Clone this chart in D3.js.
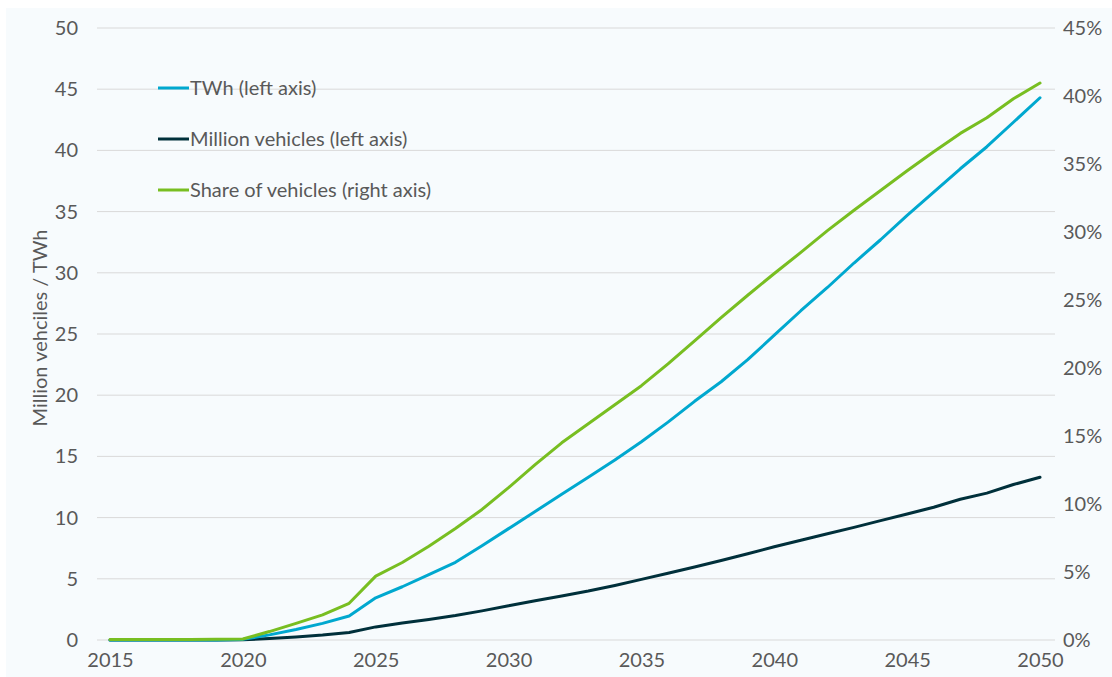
<!DOCTYPE html>
<html>
<head>
<meta charset="utf-8">
<script src="https://cdn.jsdelivr.net/npm/d3@7"></script>
<style>
  html, body { margin: 0; padding: 0; background: #ffffff; }
  svg { display: block; }
  text { font-family: Lato, "Open Sans", sans-serif; fill: #595959; }
</style>
</head>
<body>
<svg id="chart" width="1112" height="677"></svg>
<script>
// Years on the x axis
const years = d3.range(2015, 2051);

// Electricity demand of electric vehicles, TWh (left axis)
const twh = [0, 0, 0, 0, 0, 0.05, 0.42, 0.86, 1.36, 1.96,
  3.45, 4.35, 5.35, 6.35, 7.7, 9.1, 10.5, 11.9, 13.3, 14.7,
  16.2, 17.8, 19.5, 21.1, 22.9, 24.9, 26.9, 28.8, 30.8, 32.7,
  34.7, 36.6, 38.5, 40.3, 42.3, 44.3];

// Electric vehicle fleet, million vehicles (left axis)
const vehicles = [0, 0, 0, 0, 0, 0.02, 0.12, 0.25, 0.4, 0.62,
  1.07, 1.38, 1.68, 2.0, 2.38, 2.8, 3.2, 3.6, 4.0, 4.45,
  4.95, 5.45, 5.97, 6.5, 7.05, 7.62, 8.15, 8.68, 9.2, 9.75,
  10.3, 10.85, 11.5, 12.0, 12.7, 13.3];

// Share of electric vehicles in the fleet, % (right axis)
const share = [0.03, 0.03, 0.03, 0.04, 0.05, 0.07, 0.62, 1.22, 1.85, 2.7,
  4.7, 5.7, 6.9, 8.2, 9.6, 11.2, 12.9, 14.5, 15.9, 17.3,
  18.7, 20.3, 22.0, 23.7, 25.35, 26.95, 28.5, 30.1, 31.6, 33.05,
  34.5, 35.9, 37.25, 38.4, 39.8, 40.95];

// Tick values
const xTicks = [2015, 2020, 2025, 2030, 2035, 2040, 2045, 2050];
const leftTicks = [0, 5, 10, 15, 20, 25, 30, 35, 40, 45, 50];
const rightTicks = [0, 5, 10, 15, 20, 25, 30, 35, 40, 45];

const seriesNames = ["TWh (left axis)", "Million vehicles (left axis)", "Share of vehicles (right axis)"];
const seriesColors = ["#00a8cf", "#00303b", "#78be21"];
const yTitle = "Million vehciles / TWh";

const FONT = 'Lato, "Open Sans", sans-serif';
const FS = 20;

const svg = d3.select("#chart");

// Panel background
svg.append("rect")
  .attr("x", 6).attr("y", 8)
  .attr("width", 1106).attr("height", 669)
  .attr("fill", "#f7fbfd");

const x = d3.scaleLinear().domain([2015, 2050]).range([110, 1040]);
const yL = d3.scaleLinear().domain([0, 50]).range([640, 28]);
const yR = d3.scaleLinear().domain([0, 45]).range([640, 28]);

// Horizontal gridlines
svg.append("g")
  .selectAll("line")
  .data(leftTicks)
  .join("line")
  .attr("x1", 97).attr("x2", 1055)
  .attr("y1", d => yL(d)).attr("y2", d => yL(d))
  .attr("stroke", "#d9d9d9").attr("stroke-width", 1);

function styleAxis(g) {
  g.select(".domain").remove();
  g.selectAll("text").attr("font-size", FS).attr("fill", "#595959")
    .style("font-family", FONT);
}

// Left axis
svg.append("g")
  .attr("transform", "translate(78,0)")
  .call(d3.axisLeft(yL).tickValues(leftTicks).tickSize(0).tickPadding(0))
  .call(styleAxis);

// Right axis
svg.append("g")
  .attr("transform", "translate(1063,0)")
  .call(d3.axisRight(yR).tickValues(rightTicks).tickSize(0).tickPadding(0)
    .tickFormat(d => d + "%"))
  .call(styleAxis);

// Bottom axis
svg.append("g")
  .attr("transform", "translate(0,653)")
  .call(d3.axisBottom(x).tickValues(xTicks).tickSize(0).tickPadding(0)
    .tickFormat(d3.format("d")))
  .call(styleAxis);

// Left axis title
svg.append("text")
  .attr("transform", "translate(40,328) rotate(-90)")
  .attr("text-anchor", "middle")
  .attr("dy", "0.35em")
  .attr("font-size", FS)
  .text(yTitle);

// Series lines
const lineL = d3.line().x((d, i) => x(years[i])).y(d => yL(d));
const lineR = d3.line().x((d, i) => x(years[i])).y(d => yR(d));

const plot = svg.append("g")
  .attr("fill", "none")
  .attr("stroke-width", 3)
  .attr("stroke-linejoin", "round")
  .attr("stroke-linecap", "round");
plot.append("path").datum(vehicles)
  .attr("d", lineL).attr("stroke", seriesColors[1]);
plot.append("path").datum(twh)
  .attr("d", lineL).attr("stroke", seriesColors[0]);
plot.append("path").datum(share)
  .attr("d", lineR).attr("stroke", seriesColors[2]);

// Legend
const legend = svg.append("g");
const legendY = [88, 139, 190];
seriesNames.forEach((name, i) => {
  legend.append("line")
    .attr("x1", 158).attr("x2", 189)
    .attr("y1", legendY[i]).attr("y2", legendY[i])
    .attr("stroke", seriesColors[i]).attr("stroke-width", 3);
  legend.append("text")
    .attr("x", 190).attr("y", legendY[i])
    .attr("dy", "0.35em")
    .attr("font-size", FS)
    .text(name);
});
</script>
</body>
</html>
